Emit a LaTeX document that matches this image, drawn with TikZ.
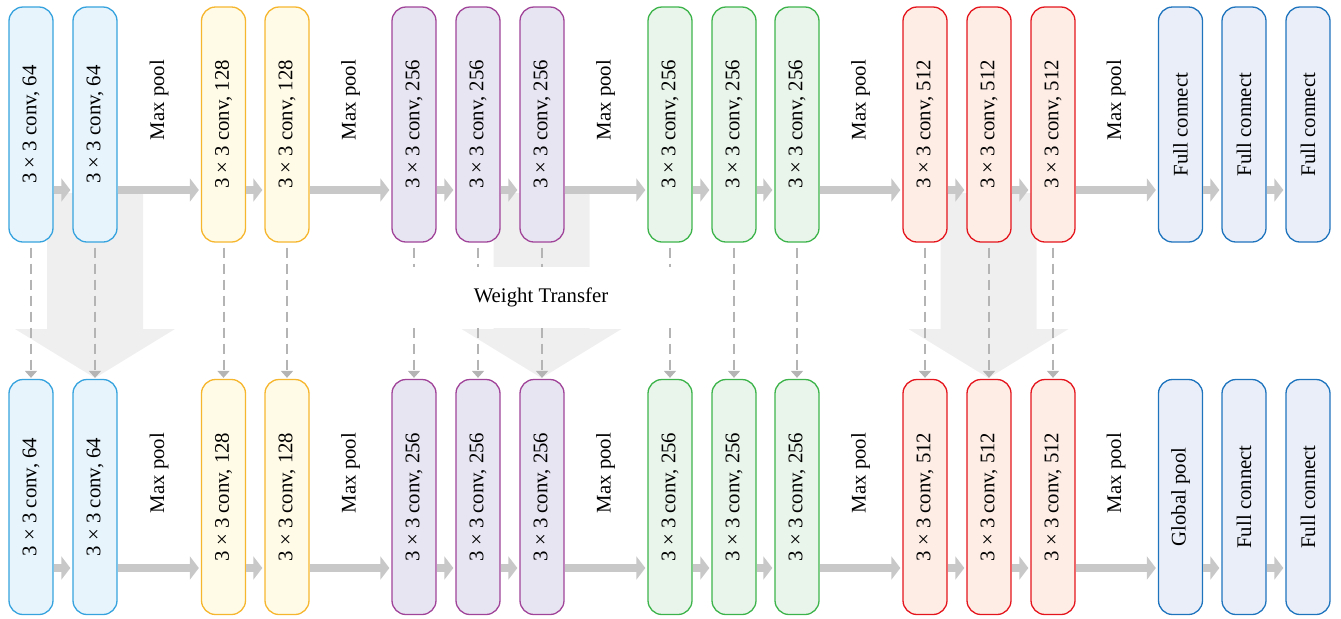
\documentclass[tikz,border=0pt]{standalone}
\usepackage{fontspec}
\setmainfont{Liberation Serif}
\usepackage{tikz}
\usetikzlibrary{arrows.meta}
\definecolor{blueline}{HTML}{36A3DE}
\definecolor{bluefill}{HTML}{E7F4FC}
\definecolor{yellowline}{HTML}{F6B62E}
\definecolor{yellowfill}{HTML}{FFFBE7}
\definecolor{purpleline}{HTML}{A04499}
\definecolor{purplefill}{HTML}{E8E5F2}
\definecolor{greenline}{HTML}{3DB44B}
\definecolor{greenfill}{HTML}{E9F4EA}
\definecolor{redline}{HTML}{E5151D}
\definecolor{redfill}{HTML}{FDEDE5}
\definecolor{fcline}{HTML}{1F74BE}
\definecolor{fcfill}{HTML}{E9EEF8}
\definecolor{flowgray}{HTML}{C8C8C8}
\definecolor{dashgray}{HTML}{B4B4B4}
\definecolor{biggray}{HTML}{EFEFEF}
\tikzset{
  box/.style={draw, line width=0.65pt, rounded corners=7pt, minimum width=22pt,
    minimum height=117.5pt, inner sep=0pt, font=\fontsize{10.4}{12}\selectfont},
  convA/.style={box, draw=blueline, fill=bluefill},
  convB/.style={box, draw=yellowline, fill=yellowfill},
  convC/.style={box, draw=purpleline, fill=purplefill},
  convD/.style={box, draw=greenline, fill=greenfill},
  convE/.style={box, draw=redline, fill=redfill},
  fcbox/.style={box, draw=fcline, fill=fcfill},
  pool/.style={rotate=90, inner sep=0pt, font=\fontsize{10.4}{12}\selectfont},
  passline/.style={draw=flowgray, line width=4pt, -{Triangle[width=11.5pt,length=4.5pt]}, shorten >=1pt},
  dashline/.style={draw=dashgray, line width=1pt, dash pattern=on 5pt off 3pt,
    -{Triangle[width=6pt,length=3.5pt]}, shorten <=2.5pt, shorten >=0.5pt},
  bigarrow/.style={fill=biggray},
  lbl/.style={fill=white, minimum width=140pt, minimum height=30.5pt, font=\fontsize{10.4}{12}\selectfont}
}
\newcommand{\cv}[1]{\rotatebox{90}{3 × 3 conv, #1}}

\begin{document}
\begin{tikzpicture}[x=0.5pt, y=-0.5pt]
  \useasboundingbox (0,0) rectangle (1341,618);
  \coordinate (toprow) at (0,190);
  \coordinate (botrow) at (0,568);

  % wide transfer arrows behind the blocks
  \fill[bigarrow] (47,193) -- (143,193) -- (143,329) -- (175,329) -- (95,378) -- (15,329) -- (47,329) -- cycle;
  \fill[bigarrow] (493.5,193) -- (589.5,193) -- (589.5,329) -- (621.5,329) -- (541.5,378) -- (461.5,329) -- (493.5,329) -- cycle;
  \fill[bigarrow] (940.5,193) -- (1036.5,193) -- (1036.5,329) -- (1068.5,329) -- (988.5,378) -- (908.5,329) -- (940.5,329) -- cycle;

  % upper network
  \node[convA] (t1) at (31,124.5) {\cv{64}};
  \node[convA] (t2) at (95,124.5) {\cv{64}};
  \node[convB] (t3) at (223.5,124.5) {\cv{128}};
  \node[convB] (t4) at (287,124.5) {\cv{128}};
  \node[convC] (t5) at (414,124.5) {\cv{256}};
  \node[convC] (t6) at (478,124.5) {\cv{256}};
  \node[convC] (t7) at (542,124.5) {\cv{256}};
  \node[convD] (t8) at (670,124.5) {\cv{256}};
  \node[convD] (t9) at (734,124.5) {\cv{256}};
  \node[convD] (t10) at (797,124.5) {\cv{256}};
  \node[convE] (t11) at (925,124.5) {\cv{512}};
  \node[convE] (t12) at (989,124.5) {\cv{512}};
  \node[convE] (t13) at (1053,124.5) {\cv{512}};
  \node[fcbox] (t14) at (1180.5,124.5) {\rotatebox{90}{Full connect}};
  \node[fcbox] (t15) at (1244,124.5) {\rotatebox{90}{Full connect}};
  \node[fcbox] (t16) at (1308,124.5) {\rotatebox{90}{Full connect}};

  \node[pool] (mt1) at (159,100) {Max pool};
  \node[pool] (mt2) at (350.5,100) {Max pool};
  \node[pool] (mt3) at (605.5,100) {Max pool};
  \node[pool] (mt4) at (860.5,100) {Max pool};
  \node[pool] (mt5) at (1116,100) {Max pool};

  % lower network
  \node[convA] (b1) at (31,497) {\cv{64}};
  \node[convA] (b2) at (95,497) {\cv{64}};
  \node[convB] (b3) at (223.5,497) {\cv{128}};
  \node[convB] (b4) at (287,497) {\cv{128}};
  \node[convC] (b5) at (414,497) {\cv{256}};
  \node[convC] (b6) at (478,497) {\cv{256}};
  \node[convC] (b7) at (542,497) {\cv{256}};
  \node[convD] (b8) at (670,497) {\cv{256}};
  \node[convD] (b9) at (734,497) {\cv{256}};
  \node[convD] (b10) at (797,497) {\cv{256}};
  \node[convE] (b11) at (925,497) {\cv{512}};
  \node[convE] (b12) at (989,497) {\cv{512}};
  \node[convE] (b13) at (1053,497) {\cv{512}};
  \node[fcbox] (b14) at (1180.5,497) {\rotatebox{90}{Global pool}};
  \node[fcbox] (b15) at (1244,497) {\rotatebox{90}{Full connect}};
  \node[fcbox] (b16) at (1308,497) {\rotatebox{90}{Full connect}};

  \node[pool] (mb1) at (159,473) {Max pool};
  \node[pool] (mb2) at (350.5,473) {Max pool};
  \node[pool] (mb3) at (605.5,473) {Max pool};
  \node[pool] (mb4) at (860.5,473) {Max pool};
  \node[pool] (mb5) at (1116,473) {Max pool};

  \foreach \a/\b in {1/2,2/3,3/4,4/5,5/6,6/7,7/8,8/9,9/10,10/11,11/12,12/13,13/14,14/15,15/16} {
    \draw[passline] (t\a.east |- toprow) -- (t\b.west |- toprow);
    \draw[passline] (b\a.east |- botrow) -- (b\b.west |- botrow);
  }
  \foreach \i in {1,...,13}
    \draw[dashline] (t\i.south) -- (b\i.north);

  \node[lbl] (wt) at (541,297.5) {Weight Transfer};
\end{tikzpicture}
\end{document}
